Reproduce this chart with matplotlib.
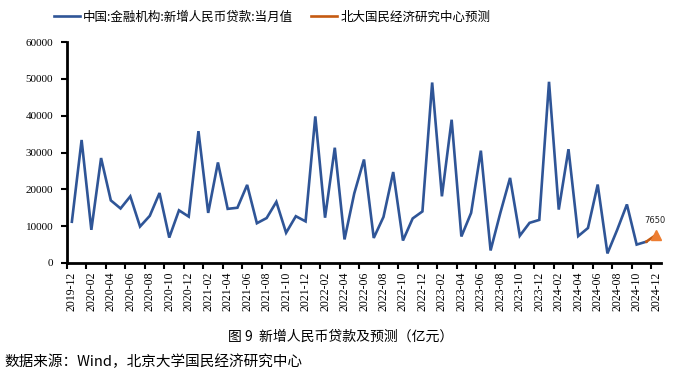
import matplotlib
matplotlib.use("Agg")
import matplotlib.pyplot as plt
import numpy as np

months = ["2019-12"] + [f"{y}-{m:02d}" for y in range(2020, 2025) for m in range(1, 13)]
actual = [11200, 33400, 9000, 28500, 17000, 14800, 18100, 9900, 12800, 19000,
          6900, 14300, 12600, 35800, 13600, 27300, 14700, 15000, 21200, 10800,
          12200, 16600, 8200, 12700, 11300, 39800, 12300, 31300, 6400, 18900,
          28100, 6800, 12500, 24700, 6100, 12100, 14000, 49000, 18100, 38900,
          7200, 13600, 30500, 3400, 13600, 23100, 7400, 10900, 11700, 49200,
          14500, 30900, 7300, 9500, 21300, 2600, 9000, 15900, 5000, 5800]
forecast = [5800, 7650]
series_names = ["中国:金融机构:新增人民币贷款:当月值", "北大国民经济研究中心预测"]
yticks = [0, 10000, 20000, 30000, 40000, 50000, 60000]

cjk = ["Noto Sans CJK SC", "DejaVu Sans"]
num = ["Liberation Serif"]

fig = plt.figure(figsize=(6.74, 3.76), dpi=100)
ax = fig.add_axes([67/674, 1-263/376, (661-67)/674, (263-42)/376])

x = np.arange(len(actual))
ax.plot(x, actual, color="#2F5597", lw=1.9, label=series_names[0], solid_joinstyle="miter")
xf = np.arange(len(actual) - 1, len(actual) + 1)
ax.plot(xf, forecast, color="#C55A11", lw=1.9, label=series_names[1])
ax.plot(xf[-1:], forecast[-1:], marker="^", color="#ED7D31", ms=7, ls="none")
ax.annotate(f"{forecast[-1]}", (xf[-1], forecast[-1]), xytext=(-1, 7), textcoords="offset points",
            ha="center", va="bottom", fontsize=6, family="DejaVu Sans", color="#222222")

ax.set_xlim(-0.5, len(months) - 0.5)
ax.set_ylim(0, 60000)
ax.set_yticks(yticks)
ax.set_yticklabels([str(v) for v in yticks], family=num, fontsize=8)
ax.tick_params(axis="y", direction="out", length=4, width=1.5, pad=6)

lab_idx = np.arange(0, len(months), 2)
ax.set_xticks(lab_idx)
ax.set_xticklabels([months[i] for i in lab_idx], rotation=90, family=num, fontsize=8.5)
ax.set_xticks(np.arange(-0.5, len(months), 2), minor=True)
ax.tick_params(axis="x", which="major", length=0, pad=6)
ax.tick_params(axis="x", which="minor", direction="out", length=4, width=1.5)

for s in ["top", "right"]:
    ax.spines[s].set_visible(False)
for s in ["left", "bottom"]:
    ax.spines[s].set_linewidth(2)

leg = fig.legend(loc="center", bbox_to_anchor=(272/674, 0.955), ncol=2, frameon=False,
                 prop={"family": cjk, "size": 9}, handlelength=2.1, columnspacing=1.4,
                 handletextpad=0.25)

fig.text(341/674, 1-337/376, "图 9  新增人民币贷款及预测（亿元）", ha="center", va="center",
         family=cjk, fontsize=10)
fig.text(4/674, 1-362/376, "数据来源：Wind，北京大学国民经济研究中心", ha="left", va="center",
         family=cjk, fontsize=10.5)

fig.savefig("out.png", dpi=100)
